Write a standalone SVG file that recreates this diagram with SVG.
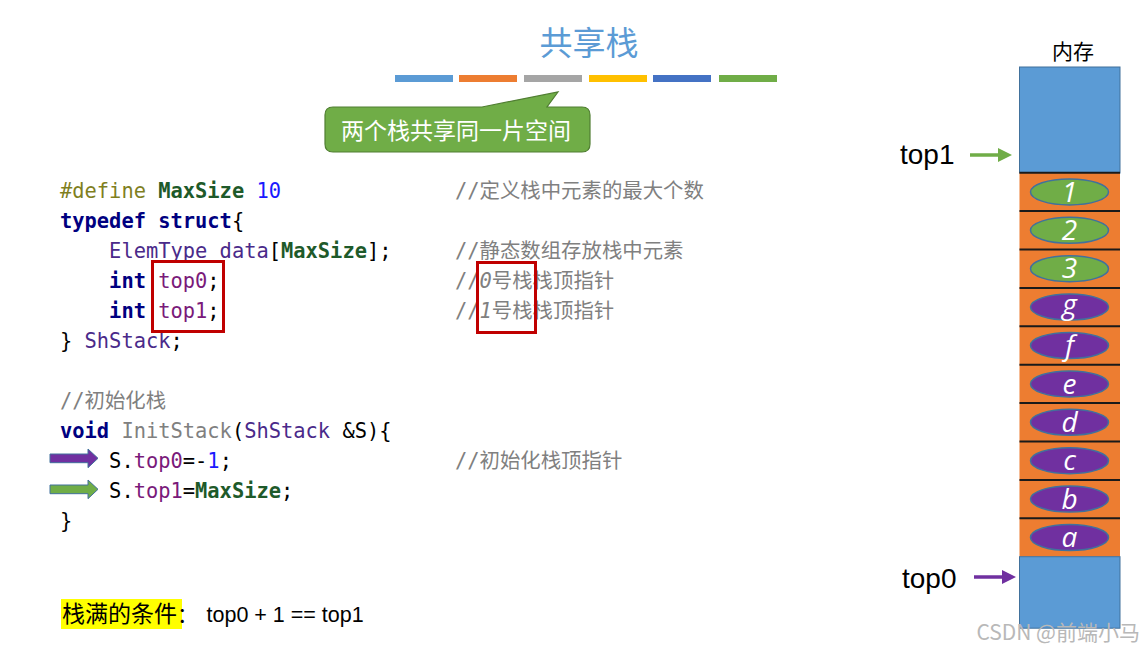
<svg xmlns="http://www.w3.org/2000/svg" width="1146" height="653" viewBox="0 0 1146 653">
<style>
.code{font-family:"DejaVu Sans Mono","Noto Sans CJK SC",monospace;font-size:20.4px;fill:#000;white-space:pre}
.kw{font-weight:bold;fill:#000080}
.mac{font-weight:bold;fill:#1e5a2a}
.num{fill:#1a1aff}
.pp{fill:#7f7f1f}
.pu{fill:#7a1a7a}
.ty{fill:#4a2a8a}
.cm{fill:#808080}
.lbl{font-family:"Liberation Sans","Open Sans",sans-serif;font-size:28px;fill:#000}
.cell{font-family:"Open Sans","Liberation Sans",sans-serif;font-style:italic;font-size:28px;fill:#fff;text-anchor:middle}
.eg{fill:#70ad47;stroke:#41719c;stroke-width:1.5}
.ep{fill:#7030a0;stroke:#41719c;stroke-width:1.5}
.sep{stroke:#1a1a1a;stroke-width:2}
.redbox{fill:none;stroke:#c00000;stroke-width:3}
</style>
<defs>
<marker id="hg" markerWidth="4" markerHeight="4" refX="0" refY="2" orient="auto" markerUnits="strokeWidth"><path d="M0,0 L4,2 L0,4 Z" fill="#70ad47"/></marker>
<marker id="hp" markerWidth="4" markerHeight="4" refX="0" refY="2" orient="auto" markerUnits="strokeWidth"><path d="M0,0 L4,2 L0,4 Z" fill="#7030a0"/></marker>
</defs>
<rect width="1146" height="653" fill="#fff"/>

<g id="title">
<text x="589" y="55" text-anchor="middle" font-family="Noto Sans CJK SC,sans-serif" font-size="33" fill="#5b9bd5">共享栈</text>
<rect x="395" y="75" width="58" height="7" fill="#5b9bd5"/>
<rect x="459" y="75" width="58" height="7" fill="#ed7d31"/>
<rect x="524" y="75" width="58" height="7" fill="#a5a5a5"/>
<rect x="589" y="75" width="58" height="7" fill="#ffc000"/>
<rect x="653" y="75" width="58" height="7" fill="#4472c4"/>
<rect x="719" y="75" width="58" height="7" fill="#70ad47"/>
</g>

<g id="callout">
<path d="M333,107 L482,107 L558,92 L547,107 L582,107 Q590,107 590,115 L590,144 Q590,152 582,152 L333,152 Q325,152 325,144 L325,115 Q325,107 333,107 Z" fill="#70ad47" stroke="#507e32" stroke-width="1.2"/>
<text x="456" y="139" text-anchor="middle" font-family="Noto Sans CJK SC,sans-serif" font-size="23" fill="#fff">两个栈共享同一片空间</text>
</g>

<g id="code">
<text class="code" xml:space="preserve" x="60" y="198"><tspan class="pp">#define</tspan> <tspan class="mac">MaxSize</tspan> <tspan class="num">10</tspan></text>
<text class="code" xml:space="preserve" x="60" y="228"><tspan class="kw">typedef</tspan> <tspan class="kw">struct</tspan>{</text>
<text class="code" xml:space="preserve" x="60" y="258">    <tspan class="ty">ElemType</tspan> <tspan class="ty">data</tspan>[<tspan class="mac">MaxSize</tspan>];</text>
<text class="code" xml:space="preserve" x="60" y="288">    <tspan class="kw">int</tspan> <tspan class="pu">top0</tspan>;</text>
<text class="code" xml:space="preserve" x="60" y="318">    <tspan class="kw">int</tspan> <tspan class="pu">top1</tspan>;</text>
<text class="code" xml:space="preserve" x="60" y="348">} <tspan class="ty">ShStack</tspan>;</text>
<text class="code cm" x="60" y="408">//初始化栈</text>
<text class="code" xml:space="preserve" x="60" y="438"><tspan class="kw">void</tspan> <tspan class="cm">InitStack</tspan>(<tspan class="ty">ShStack</tspan> &amp;S){</text>
<text class="code" xml:space="preserve" x="60" y="468">    S.<tspan class="pu">top0</tspan>=-<tspan class="num">1</tspan>;</text>
<text class="code" xml:space="preserve" x="60" y="498">    S.<tspan class="pu">top1</tspan>=<tspan class="mac">MaxSize</tspan>;</text>
<text class="code" x="60" y="528">}</text>
</g>

<g id="comments">
<text class="code cm" x="455" y="198">//定义栈中元素的最大个数</text>
<text class="code cm" x="455" y="258">//静态数组存放栈中元素</text>
<text class="code cm" x="455" y="288">//<tspan font-style="italic">0</tspan>号栈栈顶指针</text>
<text class="code cm" x="455" y="318">//<tspan font-style="italic">1</tspan>号栈栈顶指针</text>
<text class="code cm" x="455" y="468">//初始化栈顶指针</text>
</g>

<g id="highlights">
<rect class="redbox" x="152.5" y="261.5" width="71" height="70"/>
<rect class="redbox" x="477.5" y="262.5" width="58" height="70"/>
</g>

<g id="code-arrows">
<path d="M50,454 L88,454 L88,449 L98,458.3 L88,467.7 L88,462.7 L50,462.7 Z" fill="#7030a0" stroke="#41719c" stroke-width="1"/>
<path d="M50,485 L88,485 L88,480 L98,489.3 L88,498.7 L88,493.7 L50,493.7 Z" fill="#70ad47" stroke="#41719c" stroke-width="1"/>
</g>

<g id="memory">
<text x="1073" y="59" text-anchor="middle" font-family="Noto Sans CJK SC,sans-serif" font-size="21" fill="#000">内存</text>
<rect x="1019.5" y="67" width="100.5" height="106" fill="#5b9bd5" stroke="#41719c" stroke-width="1"/>
<rect x="1019.5" y="172.7" width="100.5" height="384" fill="#ed7d31"/>
<rect x="1019.5" y="556.7" width="100.5" height="71.5" fill="#5b9bd5" stroke="#41719c" stroke-width="1"/>
<line class="sep" x1="1019.5" y1="172.7" x2="1120" y2="172.7"/>
<line class="sep" x1="1019.5" y1="211.1" x2="1120" y2="211.1"/>
<line class="sep" x1="1019.5" y1="249.5" x2="1120" y2="249.5"/>
<line class="sep" x1="1019.5" y1="287.9" x2="1120" y2="287.9"/>
<line class="sep" x1="1019.5" y1="326.3" x2="1120" y2="326.3"/>
<line class="sep" x1="1019.5" y1="364.7" x2="1120" y2="364.7"/>
<line class="sep" x1="1019.5" y1="403.1" x2="1120" y2="403.1"/>
<line class="sep" x1="1019.5" y1="441.5" x2="1120" y2="441.5"/>
<line class="sep" x1="1019.5" y1="479.9" x2="1120" y2="479.9"/>
<line class="sep" x1="1019.5" y1="518.3" x2="1120" y2="518.3"/>
</g>

<g id="cells">
<g id="cell-1"><ellipse class="eg" cx="1069.5" cy="191.9" rx="39" ry="13"/><text class="cell" x="1069.5" y="201.5">1</text></g>
<g id="cell-2"><ellipse class="eg" cx="1069.5" cy="230.3" rx="39" ry="13"/><text class="cell" x="1069.5" y="239.9">2</text></g>
<g id="cell-3"><ellipse class="eg" cx="1069.5" cy="268.7" rx="39" ry="13"/><text class="cell" x="1069.5" y="278.3">3</text></g>
<g id="cell-g"><ellipse class="ep" cx="1069.5" cy="307.1" rx="39" ry="13"/><text class="cell" x="1069.5" y="313.5">g</text></g>
<g id="cell-f"><ellipse class="ep" cx="1069.5" cy="345.5" rx="39" ry="13"/><text class="cell" x="1069.5" y="355.1">f</text></g>
<g id="cell-e"><ellipse class="ep" cx="1069.5" cy="383.9" rx="39" ry="13"/><text class="cell" x="1069.5" y="393.5">e</text></g>
<g id="cell-d"><ellipse class="ep" cx="1069.5" cy="422.3" rx="39" ry="13"/><text class="cell" x="1069.5" y="431.9">d</text></g>
<g id="cell-c"><ellipse class="ep" cx="1069.5" cy="460.7" rx="39" ry="13"/><text class="cell" x="1069.5" y="470.3">c</text></g>
<g id="cell-b"><ellipse class="ep" cx="1069.5" cy="499.1" rx="39" ry="13"/><text class="cell" x="1069.5" y="508.7">b</text></g>
<g id="cell-a"><ellipse class="ep" cx="1069.5" cy="537.5" rx="39" ry="13"/><text class="cell" x="1069.5" y="547.1">a</text></g>
</g>

<g id="pointers">
<text class="lbl" x="900" y="164">top1</text>
<line x1="970" y1="155" x2="998" y2="155" stroke="#70ad47" stroke-width="3.5" marker-end="url(#hg)"/>
<text class="lbl" x="902" y="588">top0</text>
<line x1="974" y1="577" x2="1002" y2="577" stroke="#7030a0" stroke-width="3.5" marker-end="url(#hp)"/>
</g>

<g id="condition">
<rect x="61" y="599" width="121" height="30" fill="#ffff00"/>
<text x="62" y="622" font-family="Noto Sans CJK SC,sans-serif" font-size="23" fill="#000">栈满的条件<tspan font-size="21">：</tspan><tspan x="206.5" font-family="Liberation Sans,sans-serif" font-size="21.5">top0 + 1 == top1</tspan></text>
</g>

<text id="watermark" x="1140" y="640" text-anchor="end" font-family="Noto Sans CJK SC,sans-serif" font-size="21" fill="#b8b8b8">CSDN @前端小马</text>
</svg>
